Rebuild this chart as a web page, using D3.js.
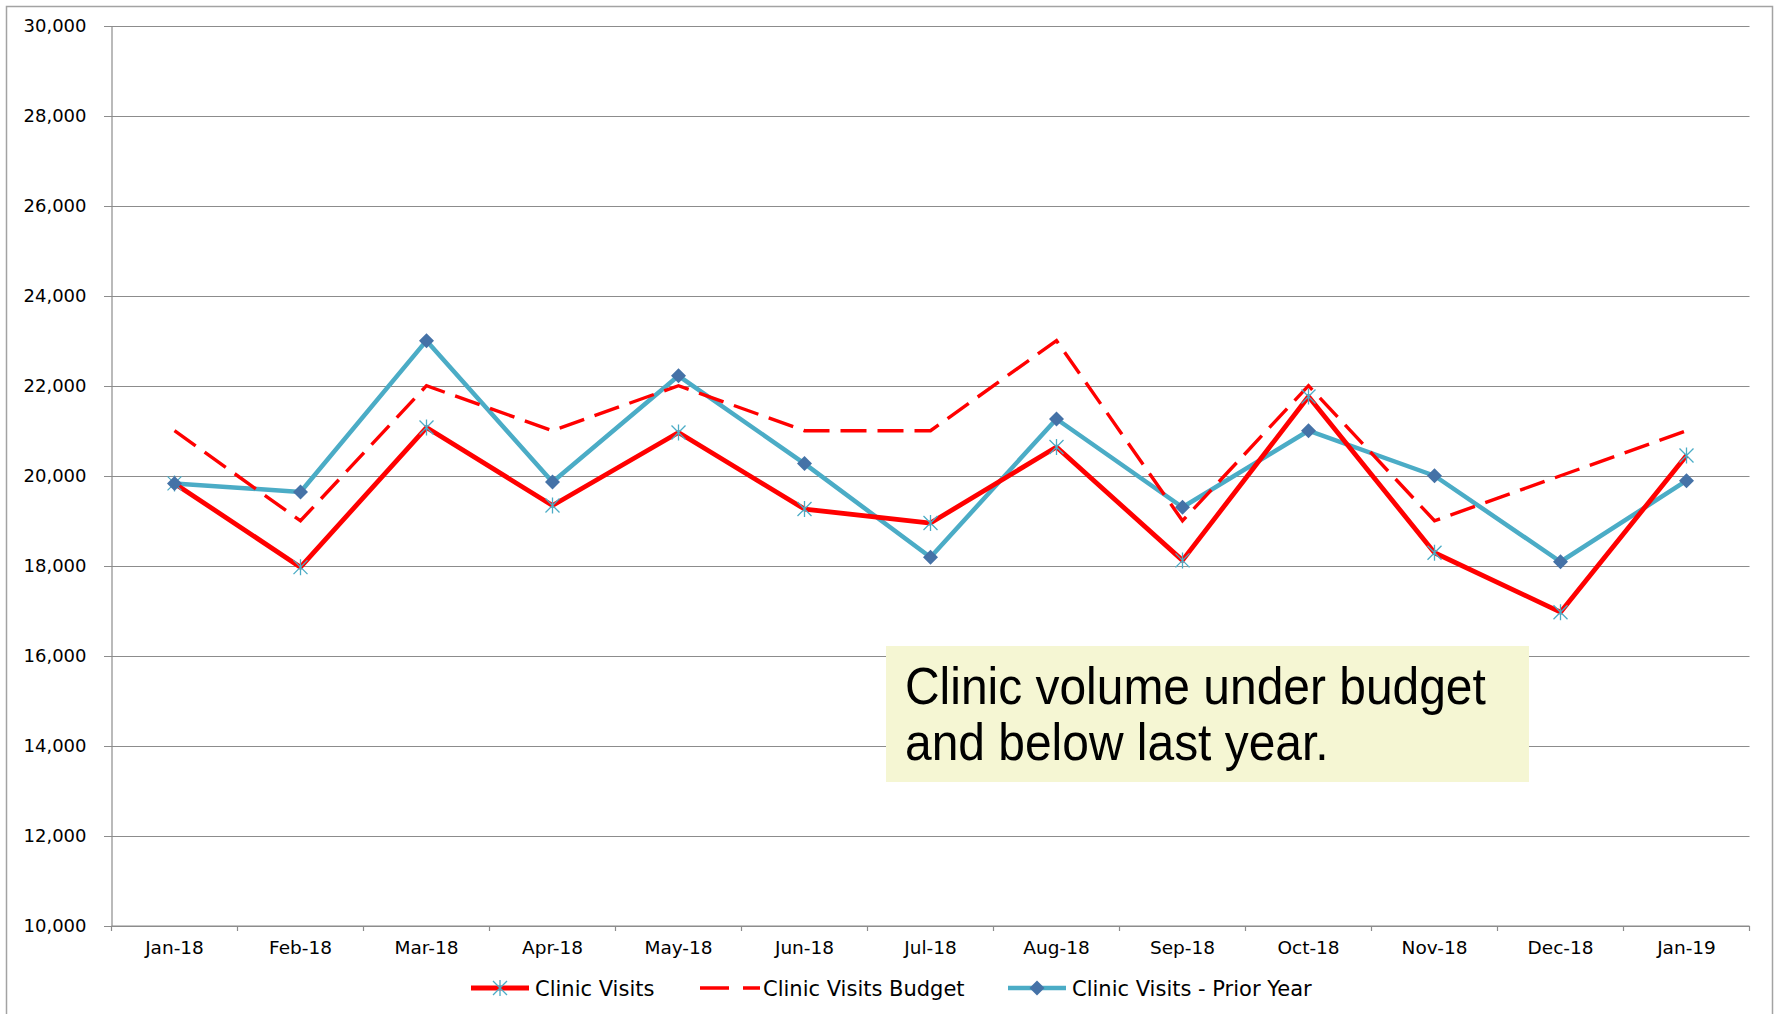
<!DOCTYPE html>
<html>
<head>
<meta charset="utf-8">
<script src="https://cdn.jsdelivr.net/npm/d3@7"></script>
<style>
  html, body { margin: 0; padding: 0; background: #fff; }
  svg { display: block; }
</style>
</head>
<body>
<svg id="chart" width="1781" height="1014"></svg>
<script>
// Monthly clinic visits vs budget vs prior year
var months = ["Jan-18", "Feb-18", "Mar-18", "Apr-18", "May-18", "Jun-18", "Jul-18",
  "Aug-18", "Sep-18", "Oct-18", "Nov-18", "Dec-18", "Jan-19"];

var clinicVisits = [19830, 17970, 21070, 19340, 20960, 19260, 18950,
  20640, 18120, 21760, 18290, 16970, 20450];

var clinicBudget = [21000, 19000, 22000, 21000, 22000, 21000, 21000,
  23000, 19000, 22000, 19000, 20000, 21000];

var priorYear = [19830, 19640, 23000, 19860, 22220, 20270, 18190,
  21260, 19300, 21000, 20000, 18090, 19890];

var yTicks = [10000, 12000, 14000, 16000, 18000, 20000, 22000, 24000, 26000, 28000, 30000];

var seriesNames = ["Clinic Visits", "Clinic Visits Budget", "Clinic Visits - Prior Year"];
var noteLines = ["Clinic volume under budget", "and below last year."];

var RED = "#ff0000", TEAL = "#4bacc6", DIAMOND = "#4572a7", GRID = "#8c8c8c";

var svg = d3.select("#chart");

// outer chart frame (bottom edge runs off the picture)
svg.append("rect")
  .attr("x", 6.5).attr("y", 6.5)
  .attr("width", 1766).attr("height", 1030)
  .attr("fill", "#fff")
  .attr("stroke", "#a3a3a3")
  .attr("stroke-width", 1.5);

var x = d3.scaleBand().domain(months).range([111.5, 1749.5]);
var y = d3.scaleLinear().domain([10000, 30000]).range([926, 25.5]);
var cx = function (m) { return x(m) + x.bandwidth() / 2; };

// gridlines
svg.append("g").selectAll("line")
  .data(yTicks)
  .join("line")
  .attr("x1", 104).attr("x2", x.range()[1])
  .attr("y1", function (d) { return Math.round(y(d)) + 0.5; })
  .attr("y2", function (d) { return Math.round(y(d)) + 0.5; })
  .attr("stroke", GRID)
  .attr("stroke-width", 1.2);

// y axis
var yAxis = svg.append("g")
  .attr("transform", "translate(" + x.range()[0] + ",0)")
  .call(d3.axisLeft(y).tickValues(yTicks).tickFormat(d3.format(",")).tickSize(0).tickPadding(25));
yAxis.select(".domain").attr("stroke", GRID).attr("stroke-width", 1.2);
yAxis.selectAll("text")
  .attr("font-family", "DejaVu Sans")
  .attr("font-size", 18)
  .attr("fill", "#000");

// x axis: labels at category centres, ticks at category boundaries
var xAxis = svg.append("g")
  .attr("transform", "translate(0," + y(10000) + ")")
  .call(d3.axisBottom(x).tickSize(0).tickPadding(15));
xAxis.select(".domain").remove();
xAxis.selectAll("text")
  .attr("font-family", "DejaVu Sans")
  .attr("font-size", 18.5)
  .attr("fill", "#000");

svg.append("line")
  .attr("x1", x.range()[0]).attr("x2", x.range()[1])
  .attr("y1", y(10000)).attr("y2", y(10000))
  .attr("stroke", GRID).attr("stroke-width", 1.2);

svg.append("g").selectAll("line")
  .data(months.map(function (m) { return x(m); }).concat([x.range()[1]]))
  .join("line")
  .attr("x1", function (d) { return d; }).attr("x2", function (d) { return d; })
  .attr("y1", y(10000)).attr("y2", y(10000) + 5)
  .attr("stroke", GRID).attr("stroke-width", 1.2);

// series lines
var line = d3.line()
  .x(function (d, i) { return cx(months[i]); })
  .y(function (d) { return y(d); });

svg.append("path").datum(priorYear)
  .attr("d", line).attr("fill", "none")
  .attr("stroke", TEAL).attr("stroke-width", 4.5)
  .attr("stroke-linejoin", "round");

svg.append("path").datum(clinicBudget)
  .attr("d", line).attr("fill", "none")
  .attr("stroke", RED).attr("stroke-width", 3.4)
  .attr("stroke-dasharray", "26 11");

svg.append("path").datum(clinicVisits)
  .attr("d", line).attr("fill", "none")
  .attr("stroke", RED).attr("stroke-width", 4.8)
  .attr("stroke-linejoin", "round");

// markers
var star = "M-7,-7L7,7M-7,7L7,-7M0,-8L0,8";
var diamond = "M0,-7.5L7.5,0L0,7.5L-7.5,0Z";

svg.append("g").selectAll("path")
  .data(clinicVisits)
  .join("path")
  .attr("transform", function (d, i) { return "translate(" + cx(months[i]) + "," + y(d) + ")"; })
  .attr("d", star)
  .attr("fill", "none").attr("stroke", TEAL).attr("stroke-width", 1.3);

svg.append("g").selectAll("path")
  .data(priorYear)
  .join("path")
  .attr("transform", function (d, i) { return "translate(" + cx(months[i]) + "," + y(d) + ")"; })
  .attr("d", diamond)
  .attr("fill", DIAMOND);

// annotation box
var note = svg.append("g");
note.append("rect")
  .attr("x", 886).attr("y", 646)
  .attr("width", 643).attr("height", 136)
  .attr("fill", "#f5f6d3");
note.selectAll("text")
  .data(noteLines)
  .join("text")
  .attr("transform", function (d, i) { return "translate(905," + (704 + i * 56) + ") scale(0.94,1)"; })
  .attr("font-family", "Liberation Sans, Arial, sans-serif")
  .attr("font-size", 51)
  .attr("fill", "#000")
  .text(function (d) { return d; });

// legend
var legend = svg.append("g").attr("transform", "translate(0,988)");
var lg = legend.selectAll("g")
  .data(seriesNames)
  .join("g")
  .attr("transform", function (d, i) { return "translate(" + [471, 700, 1008][i] + ",0)"; });

lg.append("line")
  .attr("x1", 0).attr("x2", function (d, i) { return i === 1 ? 60 : 58; })
  .attr("y1", 0).attr("y2", 0)
  .attr("stroke", function (d, i) { return i === 2 ? TEAL : RED; })
  .attr("stroke-width", function (d, i) { return i === 1 ? 3.4 : (i === 0 ? 5 : 4.5); })
  .attr("stroke-dasharray", function (d, i) { return i === 1 ? "29 14" : null; });

lg.filter(function (d, i) { return i === 0; }).append("path")
  .attr("transform", "translate(29,0)")
  .attr("d", star)
  .attr("fill", "none").attr("stroke", TEAL).attr("stroke-width", 1.3);

lg.filter(function (d, i) { return i === 2; }).append("path")
  .attr("transform", "translate(29,0)")
  .attr("d", diamond)
  .attr("fill", DIAMOND);

lg.append("text")
  .attr("x", function (d, i) { return i === 1 ? 63 : 64; })
  .attr("y", 7.5)
  .attr("font-family", "DejaVu Sans")
  .attr("font-size", 21)
  .attr("fill", "#000")
  .text(function (d) { return d; });
</script>
</body>
</html>
